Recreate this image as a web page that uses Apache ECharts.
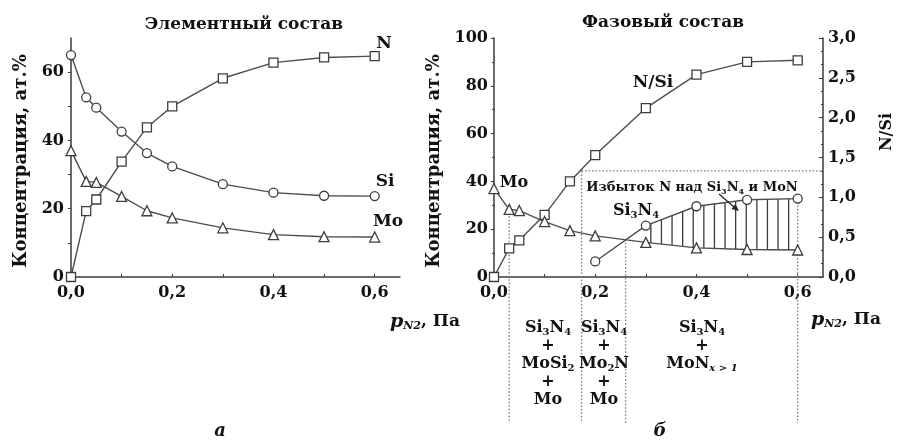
<!DOCTYPE html>
<html><head><meta charset="utf-8">
<script src="https://cdn.jsdelivr.net/npm/echarts@6/dist/echarts.min.js"></script>
<style>html,body{margin:0;padding:0;background:#fff}#c{width:901px;height:441px}</style>
</head><body><div id="c"></div>
<script>
// ---- data ----
var pressure = [0, 0.03, 0.05, 0.1, 0.15, 0.2, 0.3, 0.4, 0.5, 0.6];
// panel a: elemental composition, at.%
var nAt  = [0, 19.3, 22.7, 33.8, 43.8, 50.0, 58.2, 62.8, 64.3, 64.7];
var siAt = [65, 52.6, 49.6, 42.6, 36.3, 32.4, 27.2, 24.7, 23.8, 23.7];
var moAt = [37, 28.0, 27.7, 23.6, 19.4, 17.3, 14.4, 12.4, 11.8, 11.7];
// panel b: phase composition
var nsiRatio = [0, 0.36, 0.46, 0.78, 1.20, 1.53, 2.12, 2.54, 2.70, 2.72];
var moPhase  = [37, 28.3, 27.8, 23.2, 19.4, 17.2, 14.5, 12.2, 11.5, 11.3];
var si3n4X   = [0.2, 0.3, 0.4, 0.5, 0.6];
var si3n4    = [6.5, 21.5, 29.6, 32.3, 32.8];
var hatchRange = [0.3, 0.6];
var boundaryX   = [0.03, 0.173, 0.26, 0.6];
var boundaryTop = [28.3, 44.4, 15.8, 32.8];
var si3n4Ratio = 4 / 3;
var xTicks = [0, 0.2, 0.4, 0.6];

var FONT = "'DejaVu Serif', 'Liberation Serif', serif";
var INK = '#111';
var LINE = '#4d4d4d';

function zip(xs, ys){ return xs.map(function(x,i){ return [x, ys[i]]; }); }
function comma(v, d){ return v.toFixed(d).replace('.', ','); }
function interp(xs, ys, x){
  for (var i=0;i<xs.length-1;i++){
    if (x>=xs[i] && x<=xs[i+1]) return ys[i] + (ys[i+1]-ys[i])*(x-xs[i])/(xs[i+1]-xs[i]);
  }
  return x < xs[0] ? ys[0] : ys[ys.length-1];
}
function isMult(v, step){ return Math.abs(v/step - Math.round(v/step)) < 1e-6; }

var axisLineStyle = {show:true, lineStyle:{color:'#3a3a3a', width:1.5}};
var labelStyle = {color:INK, fontFamily:FONT, fontWeight:'bold', fontSize:16};

function xAxis(gi){
  return {type:'value', gridIndex:gi, min:0, max:0.65, interval:0.1,
    axisLine:axisLineStyle, splitLine:{show:false},
    axisTick:{show:true, inside:true, length:3, lineStyle:{color:'#3a3a3a'}},
    axisLabel:Object.assign({margin:8, showMaxLabel:false, formatter:function(v){
      return (v<=0.6+1e-9 && isMult(v,0.2)) ? comma(v,1) : '';
    }}, labelStyle)};
}

function sym(type){
  return {type:'line', symbol:type, symbolSize:type==='triangle'?10:9,
    lineStyle:{color:LINE, width:1.4}, itemStyle:{color:'#fff', borderColor:'#3d3d3d', borderWidth:1.3},
    emphasis:{disabled:true}, z:5};
}

var hatchSeries = {
  type:'custom', xAxisIndex:1, yAxisIndex:1, z:2, silent:true, clip:false,
  data:[[hatchRange[0], 0]],
  renderItem:function(params, api){
    var children = [];
    var p0 = api.coord([hatchRange[0], 0])[0], p1 = api.coord([hatchRange[1], 0])[0];
    var step = 10.6;
    for (var px = p0 + 5; px < p1 - 2; px += step){
      var xv = hatchRange[0] + (px - p0)/(p1 - p0)*(hatchRange[1]-hatchRange[0]);
      var top = api.coord([xv, interp(si3n4X, si3n4, xv)]);
      var bot = api.coord([xv, interp(pressure, moPhase, xv)]);
      children.push({type:'line', shape:{x1:px, y1:top[1], x2:px, y2:bot[1]},
        style:{stroke:'#3a3a3a', lineWidth:1.3}});
    }
    // phase boundaries (dotted)
    boundaryX.forEach(function(bx, i){
      var t = api.coord([bx, boundaryTop[i]]);
      var b = api.coord([bx, 0]);
      children.push({type:'line', shape:{x1:t[0], y1:t[1], x2:t[0], y2:b[1]+146},
        style:{stroke:'#7a7a7a', lineWidth:1.3, lineDash:[1.5,2]}});
    });
    return {type:'group', children:children};
  }
};

var ratioLine = {
  type:'custom', xAxisIndex:1, yAxisIndex:2, z:2, silent:true, clip:false,
  data:[[boundaryX[1], si3n4Ratio]],
  renderItem:function(params, api){
    var a = api.coord([boundaryX[1], si3n4Ratio]);
    var b = api.coord([0.65, si3n4Ratio]);
    return {type:'line', shape:{x1:a[0], y1:a[1], x2:b[0], y2:b[1]},
      style:{stroke:'#7a7a7a', lineWidth:1.3, lineDash:[1.5,2]}};
  }
};

function rtext(x, y, text, opts){
  opts = opts || {};
  var fs = opts.fontSize || 16;
  var rich = {
    b:{fontFamily:FONT, fontWeight:'bold', fontSize:fs, fill:INK, lineHeight:opts.lh},
    s:{fontFamily:FONT, fontWeight:'bold', fontSize:Math.round(fs*0.62), fill:INK, padding:[Math.round(fs*0.55),0,0,0], lineHeight:opts.lh},
    si:{fontFamily:FONT, fontWeight:'bold', fontStyle:'italic', fontSize:Math.round(fs*0.62), fill:INK, padding:[Math.round(fs*0.55),0,0,0], lineHeight:opts.lh},
    i:{fontFamily:FONT, fontWeight:'bold', fontStyle:'italic', fontSize:fs+2, fill:INK, lineHeight:opts.lh}
  };
  return {type:'text', x:x, y:y, rotation:opts.rot||0, z:20,
    style:{text:text, rich:rich, align:opts.align||'center', verticalAlign:'middle',
      fill:INK, font:'bold '+fs+'px '+FONT}};
}
function ptext(x, y, text, fs, opts){
  opts = opts || {};
  return {type:'text', x:x, y:y, rotation:opts.rot||0, z:20,
    style:{text:text, fill:INK, align:opts.align||'center', verticalAlign:'middle',
      font:(opts.italic?'italic ':'')+'bold '+fs+'px '+FONT}};
}

var chart = echarts.init(document.getElementById('c'), null, {renderer:'canvas'});
chart.setOption({
  animation:false,
  backgroundColor:'#fff',
  grid:[
    {left:71, top:38, width:329, height:239},
    {left:494, top:38, width:329, height:239}
  ],
  xAxis:[xAxis(0), xAxis(1)],
  yAxis:[
    {type:'value', gridIndex:0, min:0, max:70, interval:10,
      axisLine:axisLineStyle, splitLine:{show:false},
      axisTick:{show:true, length:3, lineStyle:{color:'#3a3a3a'}},
      axisLabel:Object.assign({margin:7, showMaxLabel:false, formatter:function(v){ return isMult(v,20)&&v<=60 ? String(v) : ''; }}, labelStyle)},
    {type:'value', gridIndex:1, min:0, max:100, interval:20,
      axisLine:axisLineStyle, splitLine:{show:false},
      axisTick:{show:true, length:3, lineStyle:{color:'#3a3a3a'}},
      minorTick:{show:true, splitNumber:2, length:2, lineStyle:{color:'#3a3a3a'}},
      axisLabel:Object.assign({margin:6}, labelStyle)},
    {type:'value', gridIndex:1, position:'right', min:0, max:3, interval:0.5,
      axisLine:axisLineStyle, splitLine:{show:false},
      axisTick:{show:true, inside:true, length:4, lineStyle:{color:'#3a3a3a'}},
      minorTick:{show:true, splitNumber:3, length:2, lineStyle:{color:'#3a3a3a'}},
      axisLabel:Object.assign({margin:5, formatter:function(v){ return comma(v,1); }}, labelStyle)}
  ],
  series:[
    Object.assign(sym('rect'),     {name:'N',  xAxisIndex:0, yAxisIndex:0, data:zip(pressure, nAt)}),
    Object.assign(sym('circle'),   {name:'Si', xAxisIndex:0, yAxisIndex:0, data:zip(pressure, siAt)}),
    Object.assign(sym('triangle'), {name:'Mo', xAxisIndex:0, yAxisIndex:0, data:zip(pressure, moAt)}),
    hatchSeries, ratioLine,
    Object.assign(sym('rect'),     {name:'N/Si', xAxisIndex:1, yAxisIndex:2, data:zip(pressure, nsiRatio)}),
    Object.assign(sym('triangle'), {name:'Mo b', xAxisIndex:1, yAxisIndex:1, data:zip(pressure, moPhase)}),
    Object.assign(sym('circle'),   {name:'Si3N4', xAxisIndex:1, yAxisIndex:1, data:zip(si3n4X, si3n4)})
  ],
  graphic:[
    ptext(244, 25, 'Элементный состав', 17),
    ptext(663, 23, 'Фазовый состав', 17),
    ptext(21, 161, 'Концентрация, ат.%', 18, {rot:Math.PI/2}),
    ptext(434, 161, 'Концентрация, ат.%', 18, {rot:Math.PI/2}),
    ptext(887, 132, 'N/Si', 16, {rot:Math.PI/2}),
    rtext(390, 322, '{i|p}{si|N2}{b|, Па}', {fontSize:17, align:'left'}),
    rtext(811, 320, '{i|p}{si|N2}{b|, Па}', {fontSize:17, align:'left'}),
    ptext(220, 431, 'а', 18, {italic:true}),
    ptext(660, 431, 'б', 18, {italic:true}),
    ptext(384, 44, 'N', 17),
    ptext(385, 182, 'Si', 17),
    ptext(388, 222, 'Mo', 17),
    ptext(653, 83, 'N/Si', 17),
    ptext(514, 183, 'Mo', 16),
    rtext(636, 211, '{b|Si}{s|3}{b|N}{s|4}', {fontSize:16}),
    rtext(692, 188, '{b|Избыток N над Si}{s|3}{b|N}{s|4}{b| и MoN}', {fontSize:13}),
    rtext(548, 364, '{b|Si}{s|3}{b|N}{s|4}\n{b|+}\n{b|MoSi}{s|2}\n{b|+}\n{b|Mo}', {fontSize:16, lh:18}),
    rtext(604, 364, '{b|Si}{s|3}{b|N}{s|4}\n{b|+}\n{b|Mo}{s|2}{b|N}\n{b|+}\n{b|Mo}', {fontSize:16, lh:18}),
    rtext(702, 346, '{b|Si}{s|3}{b|N}{s|4}\n{b|+}\n{b|MoN}{si|x > 1}', {fontSize:16, lh:18}),
    {type:'line', z:20, shape:{x1:719, y1:194, x2:734, y2:207}, style:{stroke:'#222', lineWidth:1.2}},
    {type:'polygon', z:20, shape:{points:[[739,211],[731.5,209],[735.5,204]]}, style:{fill:'#222'}}
  ]
});
</script></body></html>
